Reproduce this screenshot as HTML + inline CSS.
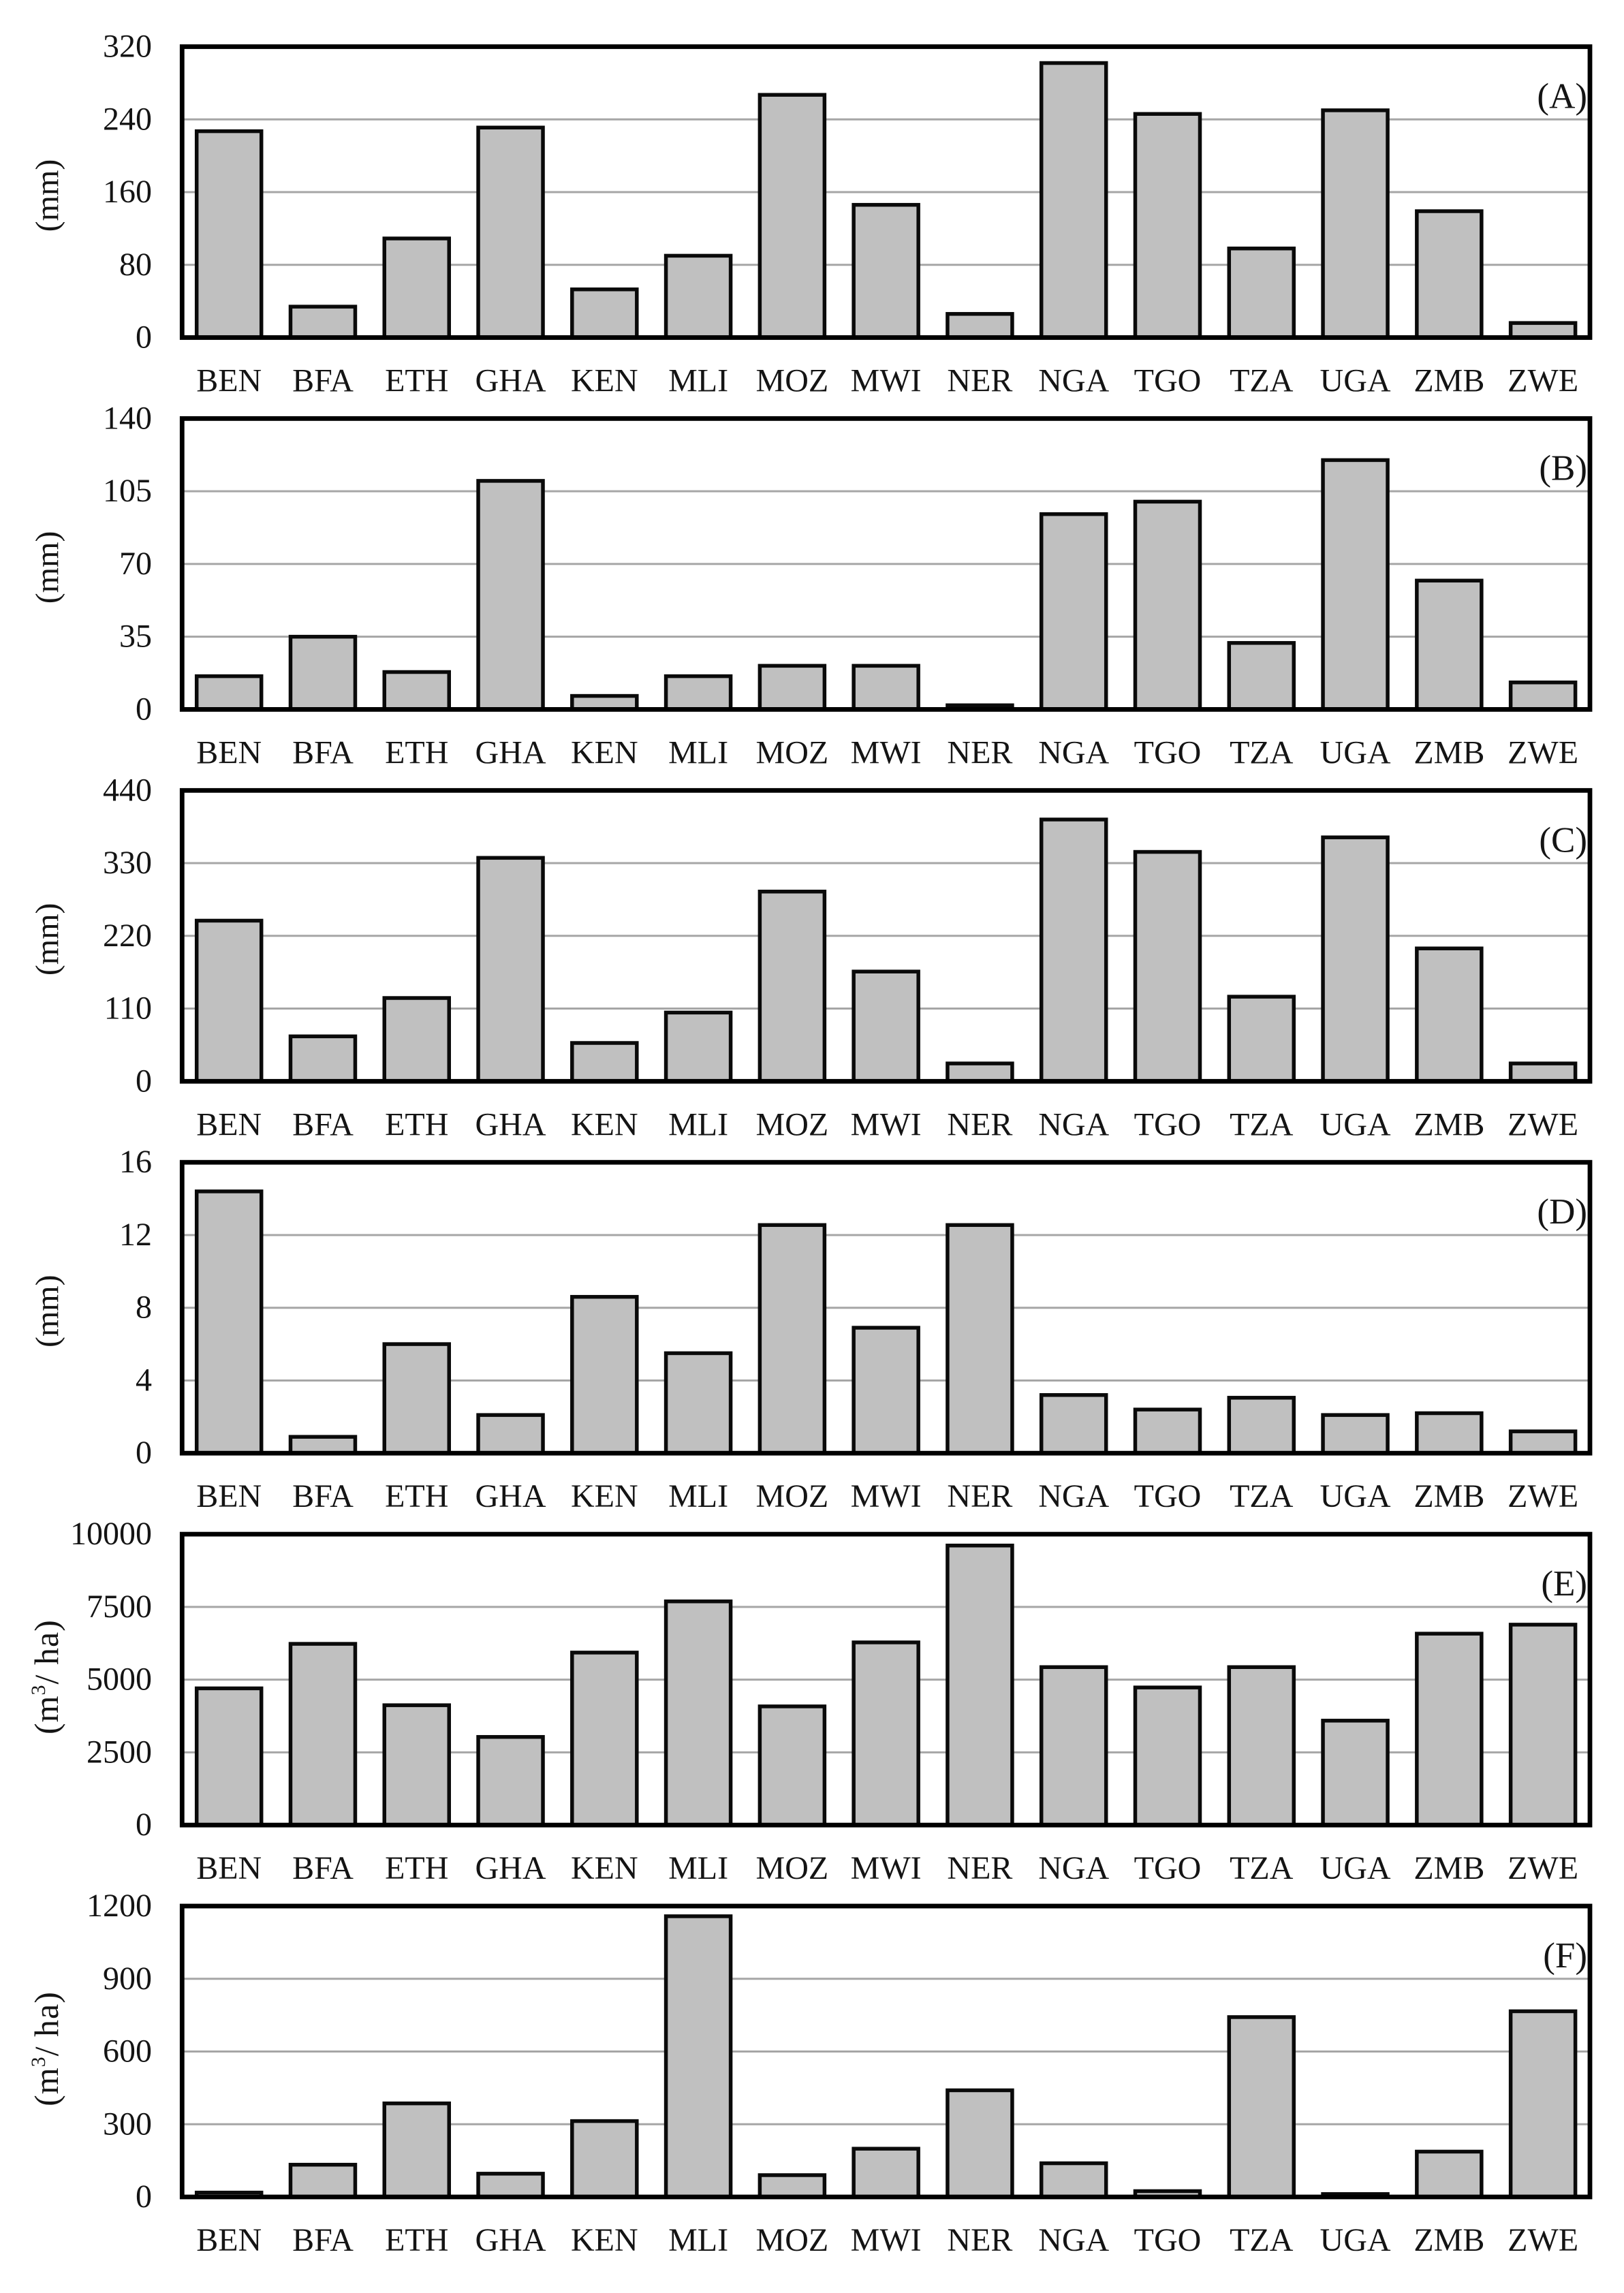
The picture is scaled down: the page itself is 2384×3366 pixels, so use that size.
<!DOCTYPE html>
<html lang="en">
<head>
<meta charset="utf-8">
<title>Country bar chart panels</title>
<style>
  html, body { margin: 0; padding: 0; background: #fff; }
  svg { display: block; }
  text { font-family: "Liberation Serif", "Times New Roman", serif; fill: #141414; }
</style>
</head>
<body>
<svg id="figure" xmlns="http://www.w3.org/2000/svg" width="2384" height="3366" viewBox="0 0 2384 3366"></svg>
<script>
const categories = ["BEN","BFA","ETH","GHA","KEN","MLI","MOZ","MWI","NER","NGA","TGO","TZA","UGA","ZMB","ZWE"];

const valuesA = [227,34,109,231,53,90,267,146,26,302,246,98,250,139,16];
const valuesB = [16,35,18,110,6.5,16,21,21,2,94,100,32,120,62,13];
const valuesC = [243,68,126,338,58,104,287,166,27,396,347,128,369,201,27];
const valuesD = [14.4,0.9,6,2.1,8.6,5.5,12.55,6.9,12.55,3.2,2.4,3.05,2.1,2.2,1.2];
const valuesE = [4700,6230,4120,3030,5930,7690,4080,6280,9610,5430,4730,5430,3590,6580,6890];
const valuesF = [18,133,386,96,313,1158,90,199,440,139,24,742,12,187,766];

const ticksA = [0,80,160,240,320];
const ticksB = [0,35,70,105,140];
const ticksC = [0,110,220,330,440];
const ticksD = [0,4,8,12,16];
const ticksE = [0,2500,5000,7500,10000];
const ticksF = [0,300,600,900,1200];

const panelLetters = ["A","B","C","D","E","F"];
const panelValues = [valuesA,valuesB,valuesC,valuesD,valuesE,valuesF];
const panelTicks = [ticksA,ticksB,ticksC,ticksD,ticksE,ticksF];
const panelUnits = ["mm","mm","mm","mm","m3","m3"];

const svg = document.getElementById("figure");
const NS = "http://www.w3.org/2000/svg";
const plotLeft = 267.3, plotRight = 2334, firstTop = 68.5, panelHeight = 427, panelStep = 545.9;
const bandWidth = (plotRight - plotLeft) / categories.length;
const barWidth = 95;
const fontSize = 48;

function mk(tag, attrs, parent) {
  const el = document.createElementNS(NS, tag);
  for (const k in attrs) el.setAttribute(k, attrs[k]);
  parent.appendChild(el);
  return el;
}

panelLetters.forEach(function (letter, p) {
  const key = letter.toLowerCase();
  const values = panelValues[p];
  const ticks = panelTicks[p];
  const top = firstTop + p * panelStep;
  const bottom = top + panelHeight;
  const maxV = ticks[ticks.length - 1];
  const yScale = function (v) { return bottom - (v / maxV) * panelHeight; };
  const xCenter = function (i) { return plotLeft + bandWidth * (i + 0.5); };

  const group = mk("g", {}, svg);
  
  

  ticks.forEach(function (t) {
    const y = yScale(t);
    if (t !== 0 && t !== maxV) {
      const grid = mk("line", {x1: plotLeft, x2: plotRight, y1: y, y2: y, stroke: "#a6a6a6", "stroke-width": 3}, group);
      
      
    }
    const label = mk("text", {x: 223, y: y + 15, "text-anchor": "end", "font-size": fontSize}, group);
    label.textContent = String(t);
    
    
  });

  values.forEach(function (v, i) {
    const y = yScale(v);
    const bar = mk("rect", {x: xCenter(i) - barWidth / 2, y: y, width: barWidth, height: bottom - y, fill: "#c0c0c0", stroke: "#0a0a0a", "stroke-width": 5.5}, group);
    
    
    const cat = mk("text", {x: xCenter(i), y: bottom + 79, "text-anchor": "middle", "font-size": fontSize}, group);
    cat.textContent = categories[i];
    
    
  });

  const frame = mk("rect", {x: plotLeft, y: top, width: plotRight - plotLeft, height: panelHeight, fill: "none", stroke: "#000", "stroke-width": 6.8}, group);
  
  

  const tag = mk("text", {x: plotRight - 4, y: top + 90, "text-anchor": "end", "font-size": 53}, group);
  tag.textContent = "(" + letter + ")";
  
  

  const mid = (top + bottom) / 2;
  const isMm = panelUnits[p] === "mm";
  const cy = isMm ? mid + 5 : mid - 4;
  const title = mk("text", {x: 0, y: 0, "text-anchor": "middle", "font-size": isMm ? 48 : 50, transform: "translate(85 " + cy + ") rotate(-90)"}, group);
  
  
  if (isMm) {
    title.textContent = "(mm)";
  } else {
    title.setAttribute("letter-spacing", "1");
    title.appendChild(document.createTextNode("(m"));
    const sup = mk("tspan", {dy: -19, "font-size": 30}, title);
    sup.textContent = "3";
    const rest = mk("tspan", {dy: 19}, title);
    rest.textContent = "/ ha)";
  }
});
</script>
</body>
</html>
